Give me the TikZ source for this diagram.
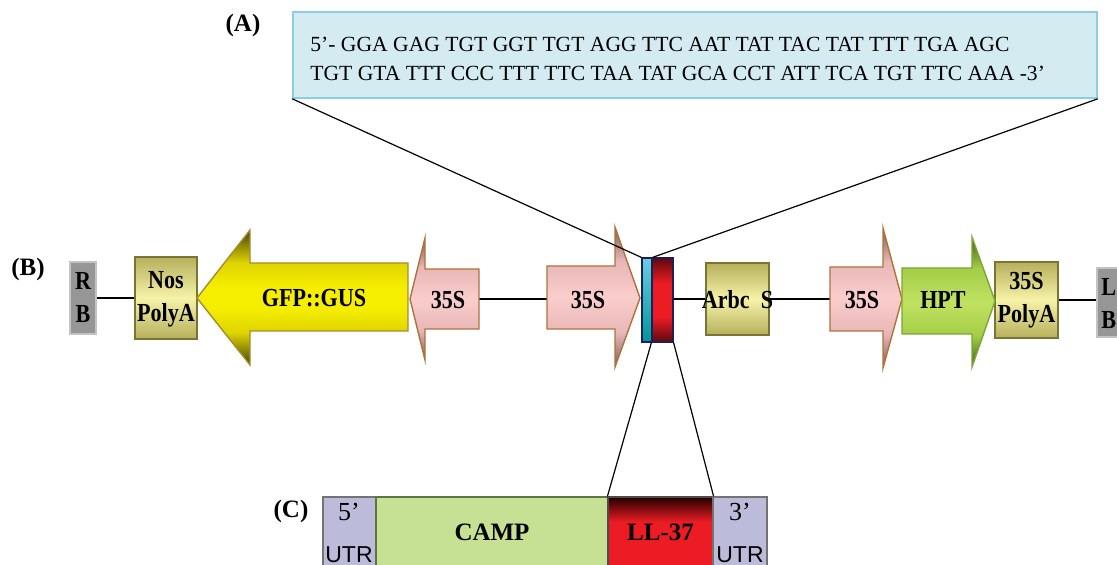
\documentclass[tikz,border=0pt]{standalone}
\usepackage{fontspec}
\setmainfont{Liberation Serif}
\setsansfont{Liberation Sans}
\newfontfamily\narrowfont{Liberation Serif}[FakeStretch=0.85]

\definecolor{seqfill}{RGB}{212,235,242}
\definecolor{seqline}{RGB}{140,205,225}
\definecolor{olvD}{RGB}{182,176,92}
\definecolor{olvL}{RGB}{246,242,168}
\definecolor{olvB}{RGB}{120,118,50}
\definecolor{gfpD}{RGB}{70,68,10}
\definecolor{gfpM}{RGB}{222,212,0}
\definecolor{gfpY}{RGB}{246,238,0}
\definecolor{gfpB}{RGB}{165,140,50}
\definecolor{pnkD}{RGB}{120,95,95}
\definecolor{pnkM}{RGB}{232,182,182}
\definecolor{pnkL}{RGB}{250,205,205}
\definecolor{pnkB}{RGB}{175,115,55}
\definecolor{grnD}{RGB}{65,95,20}
\definecolor{grnM}{RGB}{165,205,70}
\definecolor{grnL}{RGB}{192,226,98}
\definecolor{grnB}{RGB}{125,165,55}
\definecolor{redD}{RGB}{95,8,15}
\definecolor{redL}{RGB}{236,28,36}
\definecolor{redK}{RGB}{35,0,0}
\definecolor{cyL}{RGB}{105,205,225}
\definecolor{cyD}{RGB}{0,150,155}
\definecolor{navy}{RGB}{30,30,90}
\definecolor{utrfill}{RGB}{188,188,218}
\definecolor{campfill}{RGB}{198,224,148}
\definecolor{campline}{RGB}{95,115,70}
\definecolor{endfill}{RGB}{150,150,150}
\definecolor{endline}{RGB}{195,195,195}

% shadings for the boxes and arrows
\pgfdeclareverticalshading{polyshade}{100bp}{color(0bp)=(olvD); color(25bp)=(olvD); color(50bp)=(olvL); color(75bp)=(olvD); color(100bp)=(olvD)}
\pgfdeclareverticalshading{gfpshade}{100bp}{color(0bp)=(gfpD); color(25bp)=(gfpD); color(37bp)=(gfpM); color(46bp)=(gfpY); color(54bp)=(gfpY); color(63bp)=(gfpM); color(75bp)=(gfpD); color(100bp)=(gfpD)}
\pgfdeclareverticalshading{pnkshade}{100bp}{color(0bp)=(pnkD); color(25bp)=(pnkD); color(37bp)=(pnkM); color(50bp)=(pnkL); color(63bp)=(pnkM); color(75bp)=(pnkD); color(100bp)=(pnkD)}
\pgfdeclareverticalshading{grnshade}{100bp}{color(0bp)=(grnD); color(25bp)=(grnD); color(37bp)=(grnM); color(50bp)=(grnL); color(63bp)=(grnM); color(75bp)=(grnD); color(100bp)=(grnD)}
\pgfdeclareverticalshading{redshade}{100bp}{color(0bp)=(redD); color(25bp)=(redD); color(40bp)=(redL); color(60bp)=(redL); color(75bp)=(redD); color(100bp)=(redD)}
\pgfdeclareverticalshading{llshade}{100bp}{color(0bp)=(redL); color(25bp)=(redL); color(60bp)=(redL); color(75bp)=(redK); color(100bp)=(redK)}

\begin{document}
\begin{tikzpicture}[x=0.5pt,y=-0.5pt,
  thinline/.style={line width=0.6pt},
  lbl/.style={font=\narrowfont\bfseries\fontsize{13}{16.5}\selectfont, align=center, inner sep=0pt},
  tag/.style={font=\bfseries\fontsize{12.5}{15}\selectfont, inner sep=0pt},
  seqtxt/.style={font=\fontsize{10.8}{13}\selectfont, inner sep=0pt, anchor=base west},
  barlbl/.style={font=\bfseries\fontsize{12.5}{15}\selectfont, inner sep=0pt},
  polybox/.style={shade, shading=polyshade, draw=olvB, line width=0.6pt, inner sep=0pt},
  endbox/.style={fill=endfill, draw=endline, line width=0.6pt, inner sep=0pt},
  barbox/.style={draw=campline, line width=0.6pt, inner sep=0pt, minimum height=41.5pt}]
\useasboundingbox (0,0) rectangle (1117,565);
\clip (0,0) rectangle (1117,565);

% (A) sequence
\node[tag] (tagA) at (243,25) {(A)};
\node[fill=seqfill, draw=seqline, line width=0.8pt, minimum width=402pt, minimum height=43pt, inner sep=0pt] (seqbox) at (695,55) {};
\node[seqtxt] (seq1) at (310,52) {5’- GGA GAG TGT GGT TGT AGG TTC AAT TAT TAC TAT TTT TGA AGC};
\node[seqtxt] (seq2) at (310,81) {TGT GTA TTT CCC TTT TTC TAA TAT GCA CCT ATT TCA TGT TTC AAA -3’};

% (B) construct
\node[tag] (tagB) at (28,269) {(B)};
\node[endbox, minimum width=13pt, minimum height=36pt] (rb) at (83,298) {};
\node[lbl] (rbl) at (83,298) {R\\B};
\node[polybox, minimum width=31pt, minimum height=41pt] (nos) at (166,298) {};
\node[lbl] (nosl) at (166,299) {Nos\\PolyA};
\node[polybox, minimum width=31.5pt, minimum height=36pt] (arbc) at (737.5,299) {};
\node[lbl] (arbcl) at (737.5,300) {Arbc\ \ S};
\node[polybox, minimum width=31.5pt, minimum height=38pt] (pA) at (1026.5,300) {};
\node[lbl] (pAl) at (1026.5,300) {35S\\PolyA};
\node[endbox, minimum width=22pt, minimum height=34.5pt] (lb) at (1119,302.5) {};
\node[lbl, anchor=west, align=left] (lbl) at (1101,304) {L\\B};

\coordinate (p35a-end) at (479,299);
\coordinate (p35b-start) at (547,299);
\coordinate (p35c-start) at (830,299);

\draw[thinline] (rb) -- (nos);
\draw[thinline] (p35a-end) -- (p35b-start);
\draw[thinline] (arbc.east) -- (arbc.east -| p35c-start);
\draw[thinline] (pA.east) -- (pA.east -| lb.west);

\shadedraw[shading=gfpshade, draw=gfpB, line width=0.7pt] (197,298) -- (250,230) -- (250,263) -- (408,263) -- (408,331) -- (250,331) -- (250,365) -- cycle;
\shadedraw[shading=pnkshade, draw=pnkB, line width=0.7pt] (410,299) -- (425,238) -- (425,269) -- (479,269) -- (479,329) -- (425,329) -- (425,360) -- cycle;
\shadedraw[shading=pnkshade, draw=pnkB, line width=0.7pt] (547,266) -- (615,266) -- (615,227) -- (640,298) -- (615,367) -- (615,329) -- (547,329) -- cycle;
\shadedraw[shading=pnkshade, draw=pnkB, line width=0.7pt] (830,267) -- (883,267) -- (883,228) -- (902,299) -- (883,368) -- (883,331) -- (830,331) -- cycle;
\shadedraw[shading=grnshade, draw=grnB, line width=0.7pt] (902,268) -- (972,268) -- (972,237) -- (995,301) -- (972,367) -- (972,334) -- (902,334) -- cycle;

\node[lbl] (gfp) at (314,298) {GFP::GUS};
\node[lbl] (p35a) at (448,300) {35S};
\node[lbl] (p35b) at (588,300) {35S};
\node[lbl] (p35c) at (862,300) {35S};
\node[lbl] (hpt) at (943,300) {HPT};

% inserted cassette
\node[top color=cyL, bottom color=cyD, draw=navy, line width=0.6pt, minimum width=5pt, minimum height=42pt, inner sep=0pt] (cyan) at (647,300) {};
\node[shade, shading=redshade, draw=navy, line width=0.6pt, minimum width=10.5pt, minimum height=42pt, inner sep=0pt] (red) at (662.5,300) {};
\draw[thinline] (red.east |- arbc.west) -- (arbc.west);

% (C) gene
\node[tag] (tagC) at (291,511) {(C)};
\node[barbox, fill=utrfill, draw=black!55, minimum width=26.5pt] (utr5) at (349.5,538.5) {};
\node[barbox, fill=campfill, minimum width=116pt] (camp) at (492,538.5) {};
\node[barbox, shade, shading=llshade, draw=black!70, minimum width=52.5pt] (ll) at (660.5,538.5) {};
\node[barbox, fill=utrfill, draw=black!55, minimum width=27pt] (utr3) at (740,538.5) {};
\node[font=\fontsize{13}{15}\selectfont, inner sep=0pt] (utr5a) at (349,512) {5’};
\node[font=\sffamily\fontsize{11.5}{13}\selectfont, inner sep=0pt] (utr5b) at (349,555) {UTR};
\node[font=\fontsize{13}{15}\selectfont, inner sep=0pt] (utr3a) at (740,512) {3’};
\node[font=\sffamily\fontsize{11.5}{13}\selectfont, inner sep=0pt] (utr3b) at (740,555) {UTR};
\node[barlbl] (campl) at (492,532) {CAMP};
\node[barlbl] (lll) at (660.5,532) {LL-37};

% zoom lines
\draw[thinline] (seqbox.south west) -- (cyan.north west);
\draw[thinline] (seqbox.south east) -- (cyan.north east);
\draw[thinline] (red.south west) -- (ll.north west);
\draw[thinline] (red.south east) -- (ll.north east);
\end{tikzpicture}
\end{document}
